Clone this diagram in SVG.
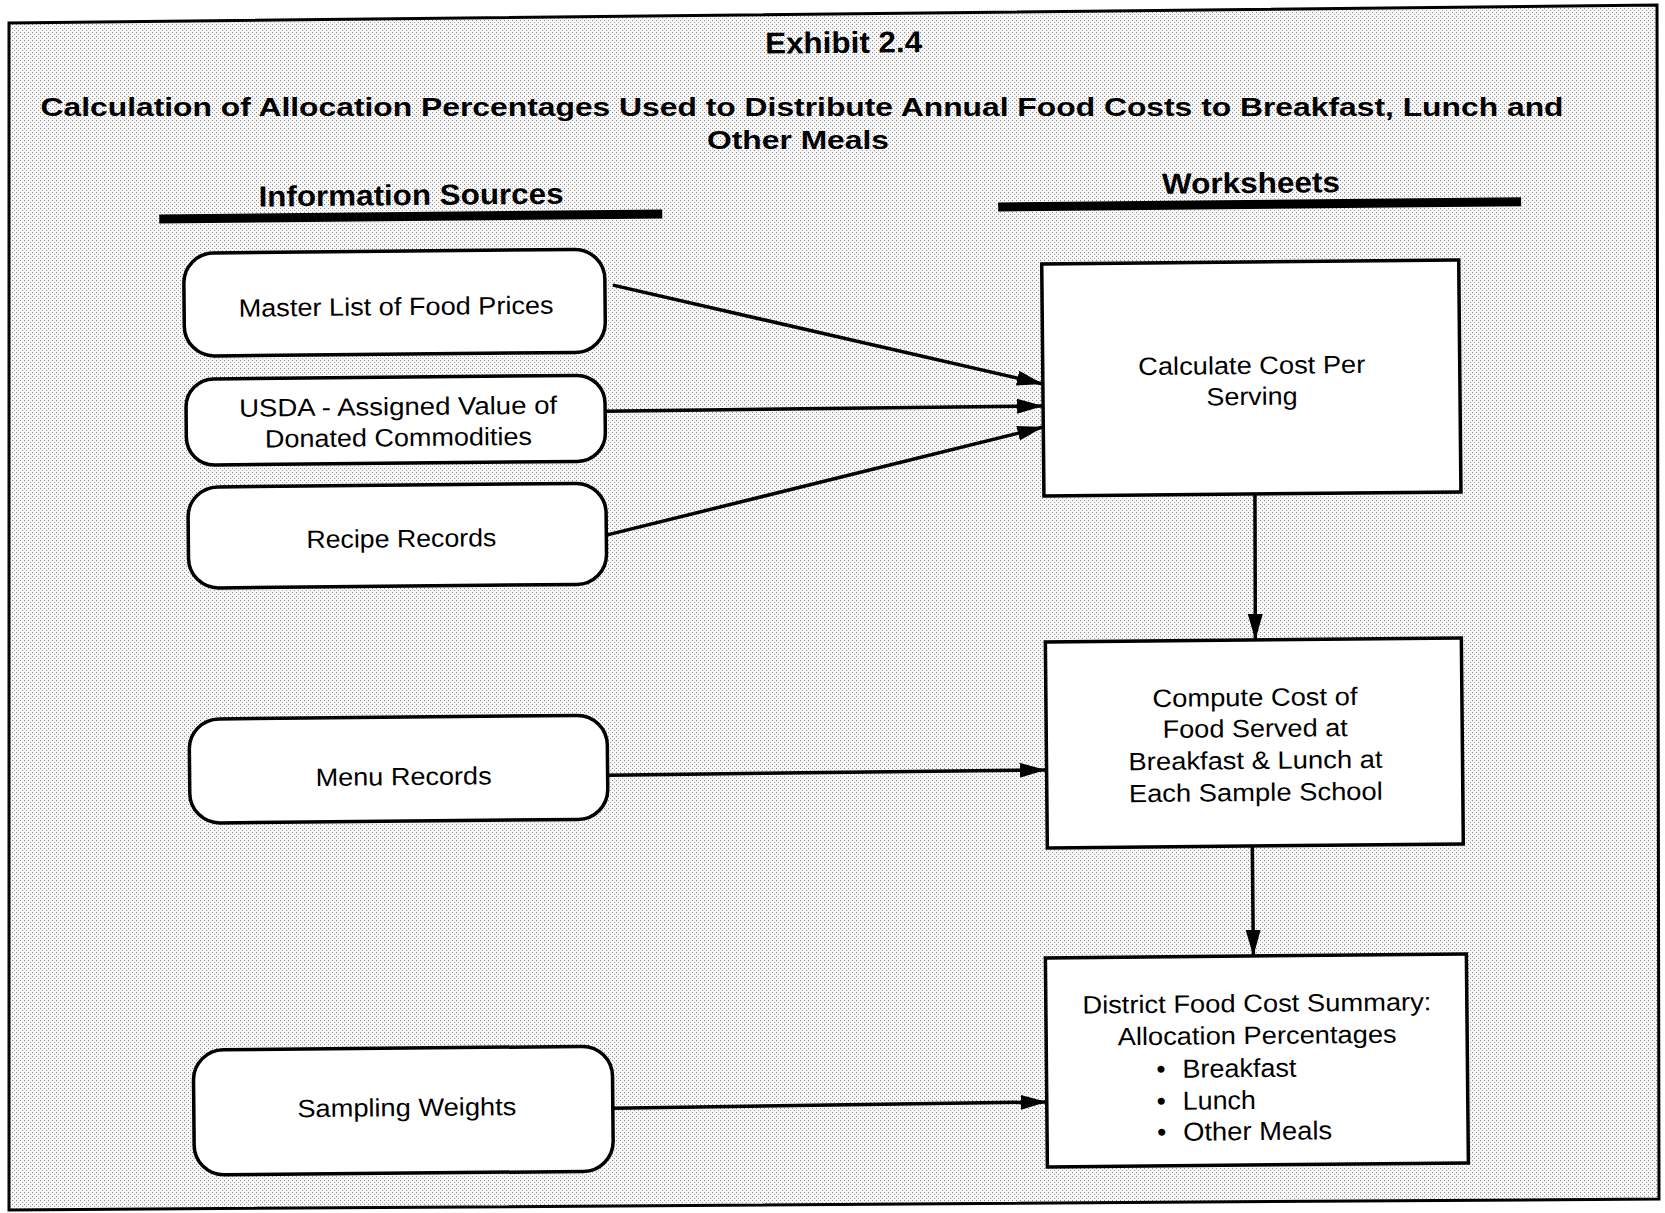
<svg xmlns="http://www.w3.org/2000/svg" width="1665" height="1213" viewBox="0 0 1665 1213">
<defs>
<pattern id="stip" width="4" height="4" patternUnits="userSpaceOnUse">
<rect width="4" height="4" fill="#f7f7f7"/>
<rect x="0" y="0" width="1" height="1" fill="#8a8a8a"/>
<rect x="2" y="2" width="1" height="1" fill="#a5a5a5"/>
</pattern>
<marker id="arr" markerUnits="userSpaceOnUse" markerWidth="28" markerHeight="16" refX="26" refY="8" orient="auto">
<path d="M0,0.5 L26,8 L0,15.5 z" fill="#000"/>
</marker>
<style>
.src{fill:#fff;stroke:#000;stroke-width:3.5}
.ws{fill:#fff;stroke:#000;stroke-width:3.5}
.t{font-family:"Liberation Sans",Arial,sans-serif;font-size:25px;fill:#000;text-anchor:middle}
.tl{font-family:"Liberation Sans",Arial,sans-serif;font-size:26px;fill:#000}
.h{font-family:"Liberation Sans",Arial,sans-serif;font-weight:bold;fill:#000;text-anchor:middle}
.c{stroke:#000;stroke-width:3.5;fill:none;marker-end:url(#arr)}
.bar{fill:#000}
</style>
</defs>
<rect width="1665" height="1213" fill="#fff"/>
<polygon points="9,23 1657,5 1659,1199 9,1210" fill="url(#stip)" stroke="#000" stroke-width="3"/>
<g id="title">
<text class="h" x="802" y="116" font-size="26" textLength="1523" lengthAdjust="spacingAndGlyphs">Calculation of Allocation Percentages Used to Distribute Annual Food Costs to Breakfast, Lunch and</text>
<text class="h" x="798" y="149" font-size="26" textLength="182" lengthAdjust="spacingAndGlyphs">Other Meals</text>
</g>
<g transform="rotate(-0.55 832 606)">
<g id="headers">
<text class="h" x="849" y="53" font-size="30" textLength="157" lengthAdjust="spacingAndGlyphs">Exhibit 2.4</text>
<text class="h" x="415" y="201" font-size="29" textLength="305" lengthAdjust="spacingAndGlyphs">Information Sources</text>
<rect class="bar" x="163" y="208" width="503" height="9"/>
<text class="h" x="1255" y="197" font-size="29" textLength="178" lengthAdjust="spacingAndGlyphs">Worksheets</text>
<rect class="bar" x="1002" y="204" width="523" height="9"/>
</g>
<g id="connectors">
<line class="c" x1="616" y1="283" x2="1045" y2="386"/>
<line class="c" x1="607" y1="409" x2="1045" y2="408"/>
<line class="c" x1="607" y1="533" x2="1045" y2="429"/>
<line class="c" x1="606" y1="773" x2="1044" y2="772"/>
<line class="c" x1="608" y1="1106" x2="1042" y2="1104"/>
<line class="c" x1="1256" y1="498" x2="1255" y2="644"/>
<line class="c" x1="1250" y1="850" x2="1250" y2="960"/>
</g>
<g id="master">
<rect class="src" x="187" y="247" width="421" height="103" rx="30"/>
<text class="t" x="399" y="311" textLength="315" lengthAdjust="spacingAndGlyphs">Master List of Food Prices</text>
</g>
<g id="usda">
<rect class="src" x="188" y="373" width="419" height="86" rx="28"/>
<text class="t" x="400" y="411" textLength="318" lengthAdjust="spacingAndGlyphs">USDA - Assigned Value of</text>
<text class="t" x="400" y="442" textLength="267" lengthAdjust="spacingAndGlyphs">Donated Commodities</text>
</g>
<g id="recipe">
<rect class="src" x="189" y="481" width="418" height="101" rx="30"/>
<text class="t" x="402" y="543" textLength="190" lengthAdjust="spacingAndGlyphs">Recipe Records</text>
</g>
<g id="menu">
<rect class="src" x="188" y="713" width="418" height="104" rx="30"/>
<text class="t" x="402" y="781" textLength="176" lengthAdjust="spacingAndGlyphs">Menu Records</text>
</g>
<g id="sampling">
<rect class="src" x="189" y="1044" width="419" height="125" rx="30"/>
<text class="t" x="402" y="1112" textLength="219" lengthAdjust="spacingAndGlyphs">Sampling Weights</text>
</g>
<g id="calc">
<rect class="ws" x="1045" y="266" width="417" height="232"/>
<text class="t" x="1254" y="378" textLength="227" lengthAdjust="spacingAndGlyphs">Calculate Cost Per</text>
<text class="t" x="1254" y="409" textLength="91" lengthAdjust="spacingAndGlyphs">Serving</text>
</g>
<g id="compute">
<rect class="ws" x="1045" y="644" width="416" height="206"/>
<text class="t" x="1254" y="710" textLength="205" lengthAdjust="spacingAndGlyphs">Compute Cost of</text>
<text class="t" x="1254" y="741" textLength="185" lengthAdjust="spacingAndGlyphs">Food Served at</text>
<text class="t" x="1254" y="773" textLength="254" lengthAdjust="spacingAndGlyphs">Breakfast &amp; Lunch at</text>
<text class="t" x="1254" y="805" textLength="254" lengthAdjust="spacingAndGlyphs">Each Sample School</text>
</g>
<g id="district">
<rect class="ws" x="1042" y="960" width="421" height="209"/>
<text class="t" x="1253" y="1016" font-size="26" textLength="349" lengthAdjust="spacingAndGlyphs">District Food Cost Summary:</text>
<text class="t" x="1253" y="1048" font-size="26" textLength="279" lengthAdjust="spacingAndGlyphs">Allocation Percentages</text>
<text class="tl" x="1152" y="1081">•</text>
<text class="tl" x="1178" y="1081" textLength="114" lengthAdjust="spacingAndGlyphs">Breakfast</text>
<text class="tl" x="1152" y="1113">•</text>
<text class="tl" x="1178" y="1113" textLength="73" lengthAdjust="spacingAndGlyphs">Lunch</text>
<text class="tl" x="1152" y="1144">•</text>
<text class="tl" x="1178" y="1144" textLength="149" lengthAdjust="spacingAndGlyphs">Other Meals</text>
</g>
</g>
</svg>
